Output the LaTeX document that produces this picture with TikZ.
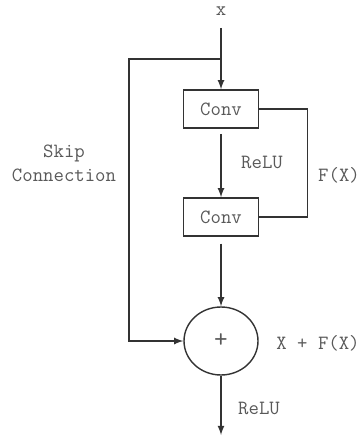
\documentclass[tikz,border=0pt]{standalone}
\usetikzlibrary{shapes.geometric, arrows, positioning}
\tikzset{>=latex}
\tikzset{
  block/.style={draw=black!80, line width=0.8pt, minimum width=1.5cm,
    minimum height=0.76cm, inner sep=0pt},
  sum/.style={ellipse, draw=black!80, line width=0.8pt, minimum width=1.48cm,
    minimum height=1.36cm, inner sep=0pt},
  lbl/.style={text=black!65, inner sep=1pt},
  wire/.style={draw=black!80, line width=0.8pt}
}
\begin{document}
\begin{tikzpicture}[x=0.02cm, y=-0.02cm,
    font=\ttfamily\fontsize{11.5}{13.5}\selectfont]
  \useasboundingbox (0,0) rectangle (356,438);
  \node[lbl] (in) at (221,11) {x}; %
  \node[block, lbl, inner sep=0pt] (conv1) at (221,109) {Conv}; %
  \node[block, lbl, inner sep=0pt] (conv2) at (221,217) {Conv}; %
  \node[sum, lbl, inner sep=0pt, font=\ttfamily\fontsize{15}{17}\selectfont]
    (add) at (221,341) {+}; %
  \coordinate (split) at (221,59); %
  \coordinate (skip) at (129,59); %
  \coordinate (out) at (221,435); %
  % main path
  \draw[wire, ->] (221,28) -- (conv1.north); %
  \draw[wire, ->] ([yshift=-3pt]conv1.south) -- (conv2.north); %
  \draw[wire, ->] ([yshift=-4pt]conv2.south) -- (add.north); %
  \draw[wire, ->] (add.south) -- (out); %
  % skip connection and residual branch
  \draw[wire, ->] (split) -- (skip) |- (add.west); %
  \draw[wire] (conv1.east) -- ++(48,0) |- (conv2.east); %
  % labels
  \node[lbl] (relu1) at (262,162) {ReLU}; %
  \node[lbl] (fx) at (339,175) {F(X)}; %
  \node[lbl, align=center] (skiplbl) at (64,163) {Skip\\Connection}; %
  \node[lbl] (sumlbl) at (318,343) {X + F(X)}; %
  \node[lbl] (relu2) at (259,408) {ReLU}; %
\end{tikzpicture}
\end{document}
